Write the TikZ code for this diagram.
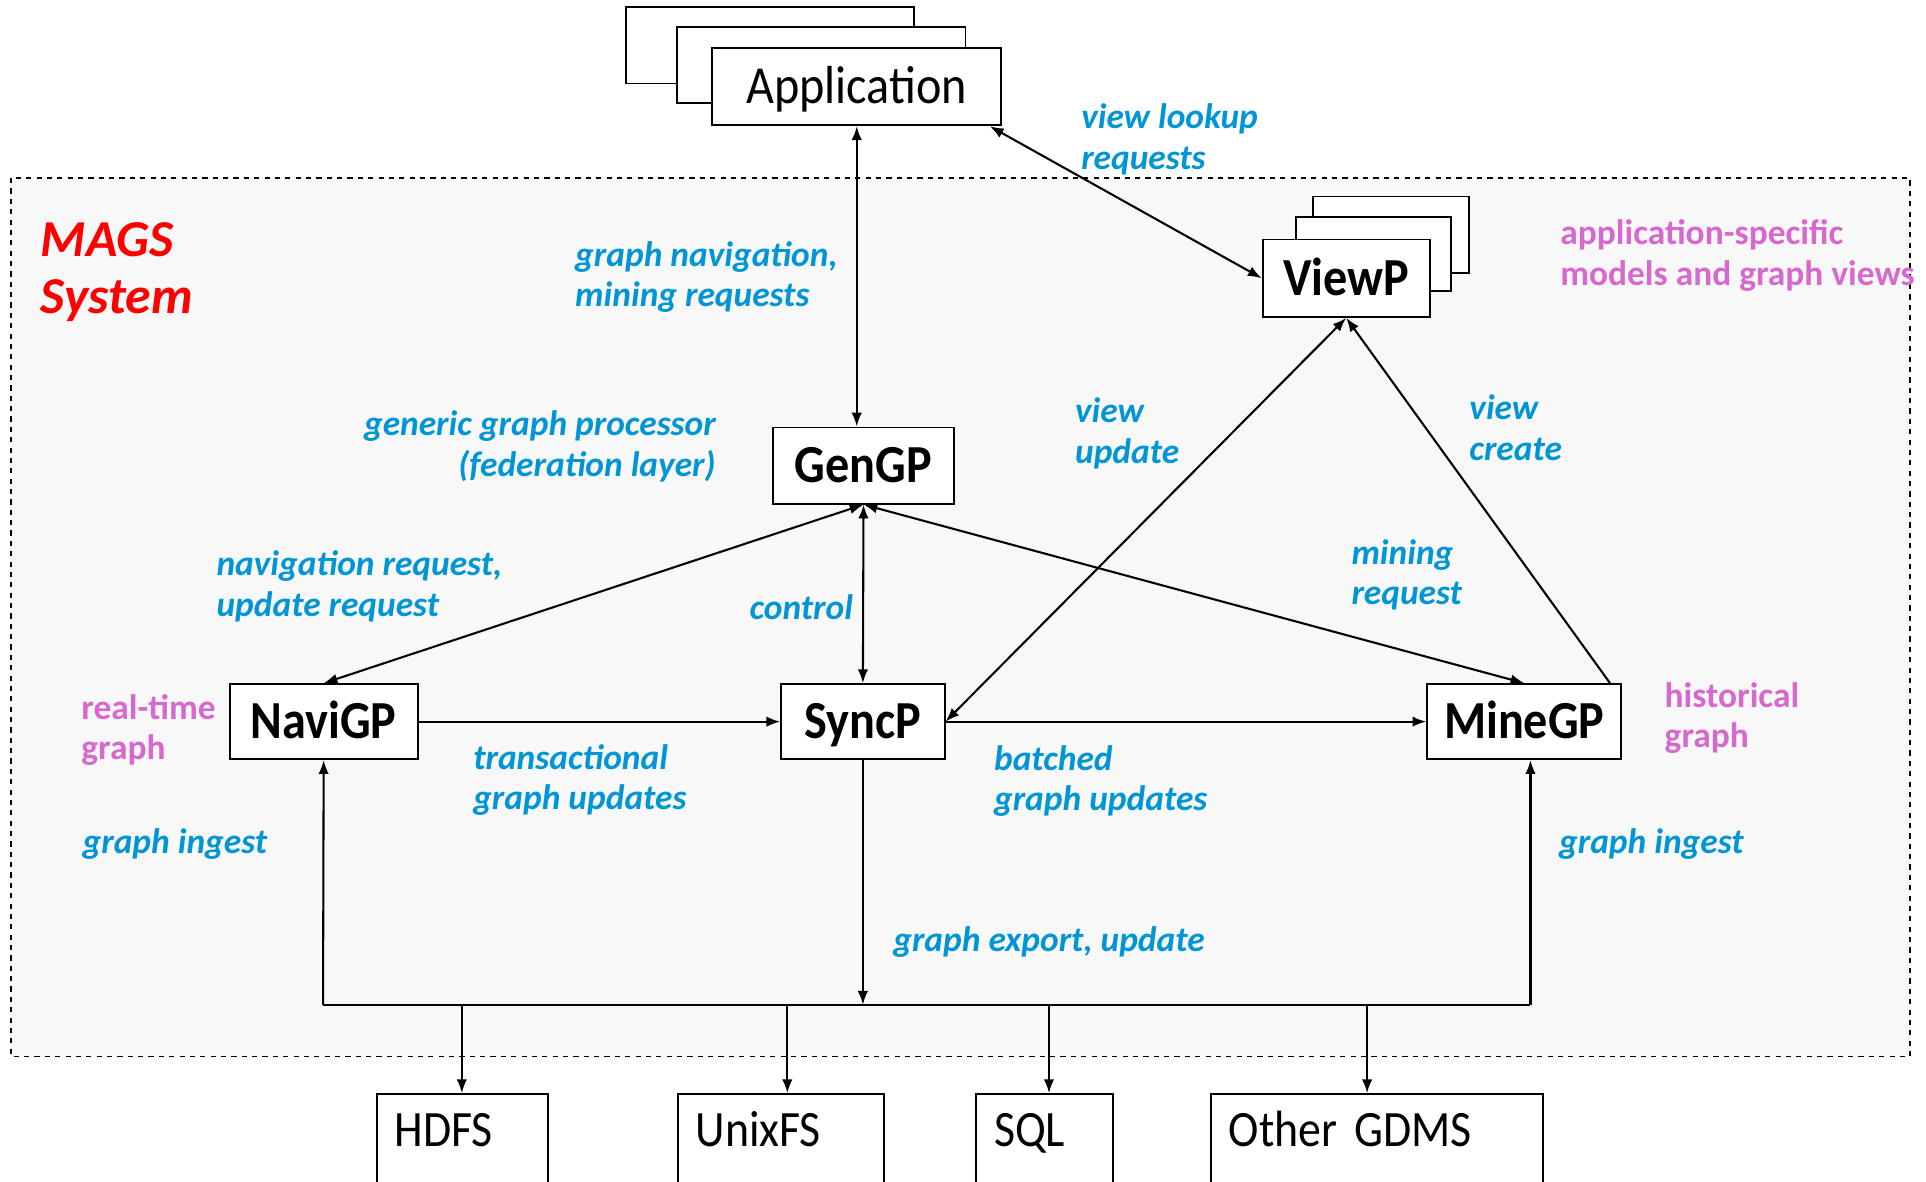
\documentclass[tikz,border=0pt]{standalone}
\usepackage{fontspec}
\setmainfont{Carlito}
\newfontfamily\boxfont{Carlito}[FakeStretch=0.9]
\usetikzlibrary{arrows.meta}
\definecolor{lblue}{RGB}{0,150,214}
\definecolor{lpink}{RGB}{214,104,206}
\definecolor{sysred}{RGB}{255,0,0}
\definecolor{sysfill}{RGB}{248,248,248}
\begin{document}
\begin{tikzpicture}[x=0.025cm,y=-0.025cm,
  proc/.style={draw, fill=white, line width=1.1pt, inner sep=0pt,
    text height=20pt, text depth=0pt,
    font=\boxfont\fontsize{31}{33}\selectfont\bfseries},
  plainbox/.style={draw, fill=white, line width=1.1pt, inner sep=0pt,
    text height=20pt, text depth=0pt,
    font=\boxfont\fontsize{31}{33}\selectfont},
  stackbox/.style={draw, fill=white, line width=1.1pt, inner sep=0pt},
  store/.style={draw, fill=white, line width=1.1pt, anchor=north west,
    inner xsep=0.3625cm, inner ysep=0pt, align=left,
    text height=1.075cm, text depth=2.8cm,
    font=\boxfont\fontsize{29.5}{31}\selectfont},
  lbl/.style={text=lblue, inner sep=0pt, align=left,
    font=\fontsize{20.5}{23.5}\selectfont\bfseries\itshape},
  note/.style={text=lpink, inner sep=0pt, align=left,
    font=\fontsize{20.5}{23.5}\selectfont\bfseries},
  conn/.style={line width=1.2pt},
  both/.style={conn, {Latex[length=8pt,width=6pt]}-{Latex[length=8pt,width=6pt]}},
  tip/.style={conn, -{Latex[length=8pt,width=6pt]}}
]
\clip (0,0) rectangle (1568,962);
\fill[white] (0,0) rectangle (1568,962);

% system boundary
\draw[dashed, line width=0.8pt, fill=sysfill] (9,145) rectangle (1555,860);
\node[anchor=west, inner sep=0pt, align=left, text=sysred,
  font=\fontsize{30}{33.4}\selectfont\bfseries\itshape] (mags) at (33,221.5) {MAGS\\System};

% application stack
\node[stackbox, minimum width=5.85cm, minimum height=1.55cm] (appback) at (627,37) {};
\node[stackbox, minimum width=5.875cm, minimum height=1.55cm] (appmid) at (668.5,53) {};
\node[plainbox, minimum width=5.875cm, minimum height=1.575cm] (app) at (697.5,70.5) {Application};

% view processor stack
\node[stackbox, minimum width=3.175cm, minimum height=1.55cm] (viewback) at (1132.5,191) {};
\node[stackbox, minimum width=3.15cm, minimum height=1.5cm] (viewmid) at (1118,207) {};
\node[proc, minimum width=3.4cm, minimum height=1.575cm] (view) at (1096,226.5) {ViewP};

% graph processors
\node[proc, minimum width=3.7cm, minimum height=1.55cm] (gen) at (703,379) {GenGP};
\node[proc, minimum width=3.825cm, minimum height=1.525cm] (navi) at (263.5,587.5) {NaviGP};
\node[proc, minimum width=3.325cm, minimum height=1.525cm] (sync) at (702.5,587.5) {SyncP};
\node[proc, minimum width=3.95cm, minimum height=1.525cm] (mine) at (1241,587.5) {MineGP};

% storage back ends
\node[store, text width=2.75cm] (hdfs) at (306,890) {HDFS};
\node[store, text width=3.475cm] (unix) at (551,890) {UnixFS};
\node[store, text width=2.05cm] (sql) at (794,890) {SQL};
\node[store, text width=6.025cm] (gdms) at (985,890) {Other GDMS};

% connectors
\draw[both] (app.south) -- (app.south |- gen.north);
\draw[both] ([xshift=-0.25cm]app.south east) -- (view.west);
\draw[both] (gen.south) -- (navi.north);
\draw[both] (gen.south) -- (sync.north);
\draw[both] (gen.south) -- (mine.north);
\draw[tip] (navi.east) -- (sync.west);
\draw[tip] (sync.east) -- (mine.west);
\draw[both] (sync.east) -- (view.south);
\draw[tip] ([xshift=-0.25cm]mine.north east) -- (view.south);

% ingest / export bus
\coordinate (busL) at (263,818);
\coordinate (busR) at (1246,818);
\coordinate (tapH) at (376,818);
\coordinate (tapU) at (641,818);
\coordinate (tapS) at (854,818);
\coordinate (tapG) at (1113,818);
\draw[conn] (busL) -- (busR);
\draw[tip] (busL) -- (navi.south);
\draw[tip] (busR) -- (busR |- mine.south);
\draw[tip] (sync.south) -- (sync.south |- busL);
\draw[tip] (tapH) -- (tapH |- hdfs.north);
\draw[tip] (tapU) -- (tapU |- unix.north);
\draw[tip] (tapS) -- (tapS |- sql.north);
\draw[tip] (tapG) -- (tapG |- gdms.north);

% connector labels
\node[lbl, anchor=west] (l1) at (880,113.5) {view lookup\\requests};
\node[lbl, anchor=west] (l2) at (468,225.5) {graph navigation,\\mining requests};
\node[lbl, anchor=east, align=right] (l3) at (583,363.5) {generic graph processor\\(federation layer)};
\node[lbl, anchor=west] (l4) at (875,353) {view\\update};
\node[lbl, anchor=west] (l5) at (1196,348) {view\\create};
\node[lbl, anchor=west] (l6) at (176,477.5) {navigation request,\\update request};
\node[lbl, anchor=west] (l7) at (610,494) {control};
\node[lbl, anchor=west] (l8) at (1100,468) {mining\\request};
\node[lbl, anchor=west] (l9) at (385,635) {transactional\\graph updates};
\node[lbl, anchor=west] (l10) at (809,636) {batched\\graph updates};
\node[lbl, anchor=west] (l11) at (67,687) {graph ingest};
\node[lbl, anchor=west] (l12) at (1269,687) {graph ingest};
\node[lbl, anchor=west] (l13) at (727,767) {graph export, update};

% annotations
\node[note, anchor=west] (n1) at (66,594.5) {real-time\\graph};
\node[note, anchor=west] (n2) at (1355,584.5) {historical\\graph};
\node[note, anchor=west] (n3) at (1270,208) {application-specific\\models and graph views};
\end{tikzpicture}
\end{document}
